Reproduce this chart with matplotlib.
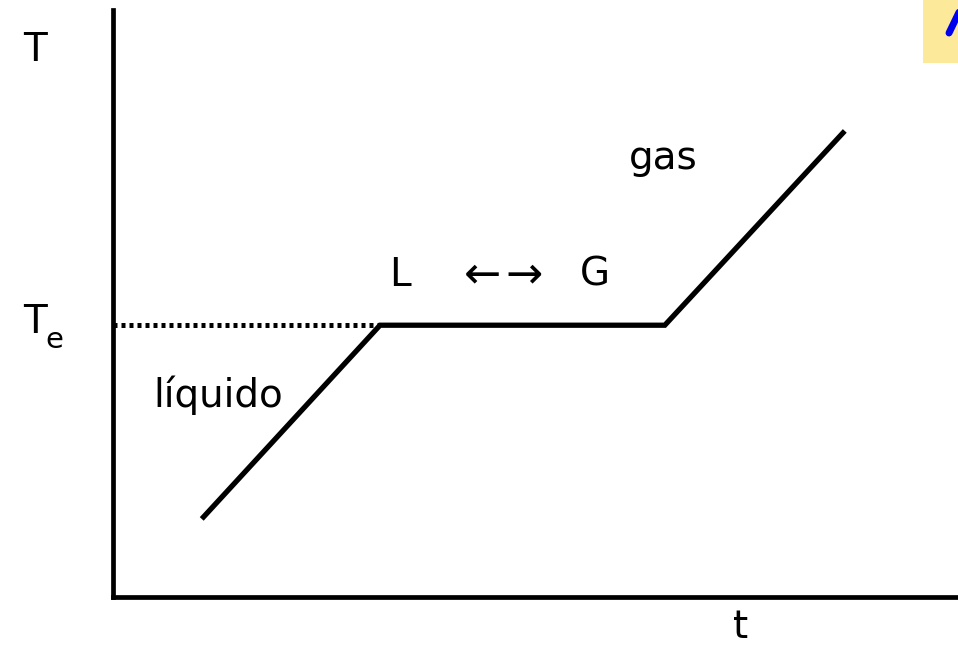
import matplotlib
matplotlib.use("Agg")
import matplotlib.pyplot as plt
from matplotlib.patches import Rectangle

# curva de calentamiento (tiempo, temperatura)
t_vals = [1.05, 3.16, 6.53, 8.66]
T_vals = [1.33, 4.63, 4.63, 7.94]
T_e = 4.63

W, H = 958, 648
fig = plt.figure(figsize=(W / 100, H / 100), dpi=100)

# ejes: x de 113 a 958 px, y de 597 a 10 px
ax = fig.add_axes([113 / W, 1 - 597 / H, (W - 113) / W, (597 - 10) / H])
ax.set_xlim(0, 10)
ax.set_ylim(0, 10)
ax.set_xticks([])
ax.set_yticks([])
for s in ["top", "right"]:
    ax.spines[s].set_visible(False)
for s in ["left", "bottom"]:
    ax.spines[s].set_linewidth(3.4)
    ax.spines[s].set_color("black")

ax.plot(t_vals, T_vals, color="black", lw=3.8, solid_capstyle="butt",
        solid_joinstyle="miter", clip_on=False)
ax.plot([0, t_vals[1]], [T_e, T_e], color="black", lw=3.6,
        linestyle=(0, (0.8, 0.8)), dash_capstyle="butt")


def px(x, y):
    return x / W, 1 - y / H


fs = 28
fig.text(*px(35, 50), "T", fontsize=fs, ha="center", va="center")
fig.text(*px(35, 322), "T", fontsize=fs, ha="center", va="center")
fig.text(*px(54, 340), "e", fontsize=21, ha="center", va="center")
fig.text(*px(218, 395), "líquido", fontsize=fs, ha="center", va="center")
fig.text(*px(400, 275), "L", fontsize=fs, ha="center", va="center")
fig.text(*px(482, 275), "←", fontsize=fs + 4, ha="center", va="center")
fig.text(*px(524, 275), "→", fontsize=fs + 4, ha="center", va="center")
fig.text(*px(595, 275), "G", fontsize=fs, ha="center", va="center")
fig.text(*px(663, 158), "gas", fontsize=fs, ha="center", va="center")
fig.text(*px(741, 646), "t", fontsize=fs, ha="center", va="bottom")

# recuadro amarillo recortado arriba a la derecha
fig.patches.append(Rectangle(px(923, 63), 40 / W, 63 / H, transform=fig.transFigure,
                             facecolor="#fcea9a", edgecolor="none"))
fig.lines.append(plt.Line2D([949 / W, 962 / W], [1 - 33 / H, 1 - 6 / H],
                            transform=fig.transFigure, color="#0000ee", lw=5,
                            solid_capstyle="round"))

fig.savefig("out.png", dpi=100)
